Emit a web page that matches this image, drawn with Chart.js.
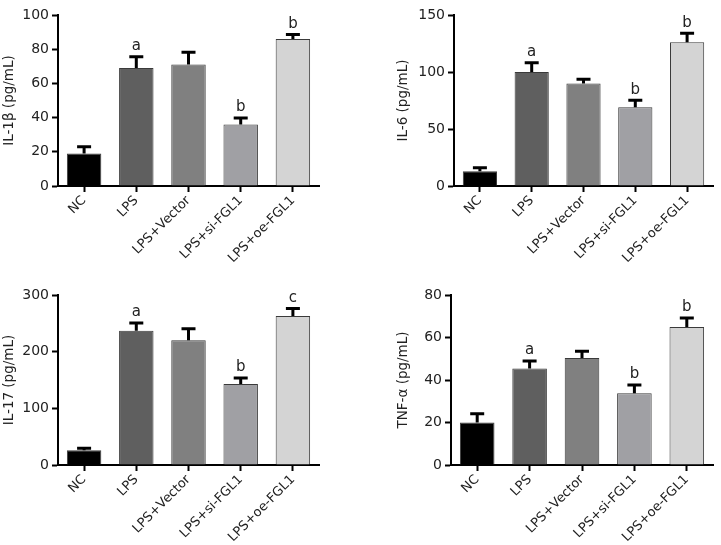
<!DOCTYPE html>
<html>
<head>
<meta charset="utf-8">
<script src="https://cdn.jsdelivr.net/npm/chart.js@4.4.0/dist/chart.umd.min.js"></script>
<style>
  html, body { margin: 0; padding: 0; background: #fff; }
  body { width: 721px; height: 545px; position: relative; overflow: hidden; }
  canvas { position: absolute; }
</style>
</head>
<body>
<canvas id="c1" width="360" height="270" style="left:0;top:0"></canvas>
<canvas id="c2" width="361" height="270" style="left:360px;top:0"></canvas>
<canvas id="c3" width="360" height="275" style="left:0;top:270px"></canvas>
<canvas id="c4" width="361" height="275" style="left:360px;top:270px"></canvas>
<script>
// groups on the x axis
const groups = ["NC", "LPS", "LPS+Vector", "LPS+si-FGL1", "LPS+oe-FGL1"];
const barColors = ["#000000", "#5f5f5f", "#808080", "#a0a0a4", "#d4d4d4"];

// IL-1beta
const il1bMean = [19, 69, 71, 36, 86];
const il1bErr = [4, 6.6, 7.2, 3.8, 2.6];
const il1bLetters = ["", "a", "", "b", "b"];

// IL-6
const il6Mean = [13, 100, 90, 69, 126];
const il6Err = [3, 8.2, 3.6, 6.2, 8];
const il6Letters = ["", "a", "", "b", "b"];

// IL-17
const il17Mean = [26, 237, 220, 143, 263];
const il17Err = [3.5, 13.5, 20.5, 10.6, 13];
const il17Letters = ["", "a", "", "b", "c"];

// TNF-alpha
const tnfMean = [20, 45.4, 50.4, 33.8, 64.9];
const tnfErr = [4.1, 3.6, 3.1, 3.9, 4.3];
const tnfLetters = ["", "a", "", "b", "b"];

const FONT = "'DejaVu Sans', Verdana, sans-serif";
const TEXT = "#222222";

// disegna barre d'errore (solo sopra) e lettere di significatività
const errorBarPlugin = {
  id: "errorBars",
  afterDatasetsDraw(chart) {
    const ctx = chart.ctx;
    const ds = chart.data.datasets[0];
    const meta = chart.getDatasetMeta(0);
    const yScale = chart.scales.y;
    ctx.save();
    meta.data.forEach((bar, i) => {
      const top = yScale.getPixelForValue(ds.data[i] + ds.errors[i]);
      const base = yScale.getPixelForValue(ds.data[i]);
      ctx.strokeStyle = "#000";
      ctx.lineWidth = 3;
      ctx.beginPath();
      ctx.moveTo(bar.x, base);
      ctx.lineTo(bar.x, top);
      ctx.moveTo(bar.x - 7, top);
      ctx.lineTo(bar.x + 7, top);
      ctx.stroke();
      if (ds.letters[i]) {
        ctx.fillStyle = TEXT;
        ctx.font = "15px " + FONT;
        ctx.textAlign = "center";
        ctx.textBaseline = "bottom";
        ctx.fillText(ds.letters[i], bar.x, top - 3);
      }
    });
    ctx.restore();
  },
};

function makeChart(id, title, mean, err, letters, yMax, step, box) {
  return new Chart(document.getElementById(id), {
    type: "bar",
    data: {
      labels: groups,
      datasets: [
        {
          data: mean,
          errors: err,
          letters: letters,
          backgroundColor: barColors,
          borderColor: "#3a3a3a",
          borderWidth: 1,
          barPercentage: 0.66,
          categoryPercentage: 1,
        },
      ],
    },
    options: {
      responsive: false,
      animation: false,
      devicePixelRatio: 1,
      layout: {
        padding: { left: box.left, top: box.top, right: box.right, bottom: 0 },
      },
      plugins: {
        legend: { display: false },
        tooltip: { enabled: false },
      },
      scales: {
        x: {
          afterFit: (scale) => {
            scale.height = box.xh;
          },
          border: { color: "#000", width: 2 },
          grid: {
            offset: false,
            drawOnChartArea: false,
            drawTicks: true,
            tickLength: 6,
            tickWidth: 2,
            color: "#000",
          },
          ticks: {
            autoSkip: false,
            minRotation: 45,
            maxRotation: 45,
            padding: 1,
            color: TEXT,
            font: { family: FONT, size: 13 },
          },
        },
        y: {
          min: 0,
          max: yMax,
          afterFit: (scale) => {
            scale.width = box.yw;
          },
          border: { color: "#000", width: 2 },
          grid: {
            drawOnChartArea: false,
            drawTicks: true,
            tickLength: 6,
            tickWidth: 2,
            color: "#000",
          },
          ticks: {
            stepSize: step,
            padding: 3,
            color: TEXT,
            font: { family: FONT, size: 14 },
          },
          title: {
            display: true,
            text: title,
            color: TEXT,
            padding: 0,
            font: { family: FONT, size: 13.5 },
          },
        },
      },
    },
    plugins: [errorBarPlugin],
  });
}

makeChart("c1", "IL-1β (pg/mL)", il1bMean, il1bErr, il1bLetters, 100, 20,
  { left: 1, top: 15, right: 41, yw: 57, xh: 84 });
makeChart("c2", "IL-6 (pg/mL)", il6Mean, il6Err, il6Letters, 150, 50,
  { left: 35, top: 15, right: 8, yw: 59, xh: 84 });
makeChart("c3", "IL-17 (pg/mL)", il17Mean, il17Err, il17Letters, 300, 100,
  { left: 1, top: 25, right: 41, yw: 57, xh: 80 });
makeChart("c4", "TNF-α (pg/mL)", tnfMean, tnfErr, tnfLetters, 80, 20,
  { left: 35, top: 25, right: 8, yw: 56, xh: 80 });
</script>
</body>
</html>
